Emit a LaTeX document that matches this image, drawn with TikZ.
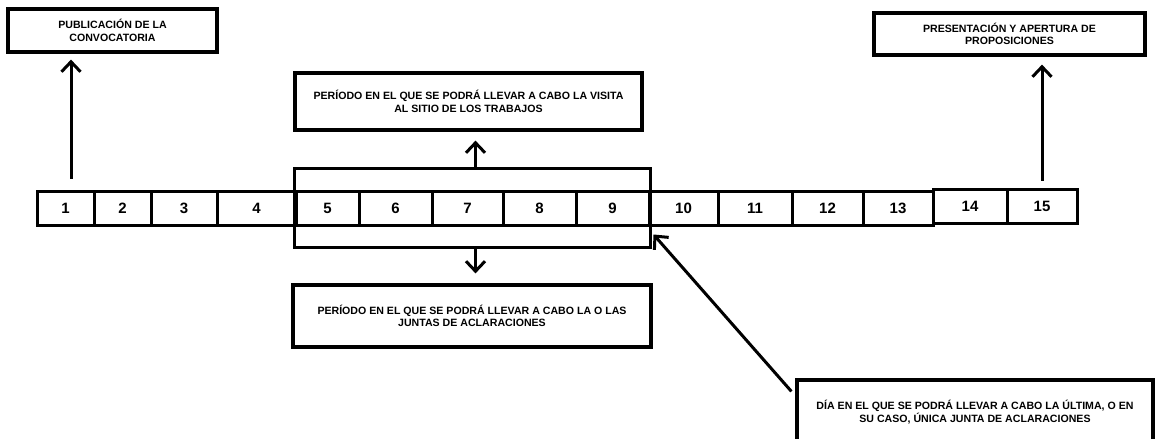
\documentclass[tikz,border=0pt]{standalone}
\usepackage{fontspec}
\setmainfont{Liberation Sans}
\usetikzlibrary{arrows.meta,fit}

\begin{document}
\begin{tikzpicture}[x=1pt,y=-1pt,
	celda/.style={draw, line width=3pt, minimum height=34, inner sep=0pt, font=\fontsize{15}{15}\selectfont\bfseries},
	caja/.style={draw, line width=3.2pt, inner sep=0pt, align=center, font=\fontsize{10.6}{12.5}\selectfont\bfseries},
	flecha/.style={line width=3pt, -{Straight Barb[length=10pt,width=19pt]}}]
			\useasboundingbox (0,0) rectangle (1160,439);
			\clip (0,0) rectangle (1160,439);
			% dias
			\node	(c1) at (65.5,208) [celda, minimum width=57] {1};
			\node	(c2) at (122.5,208) [celda, minimum width=57] {2};
			\node	(c3) at (184,208) [celda, minimum width=66] {3};
			\node	(c4) at (256.5,208) [celda, minimum width=79] {4};
			\node	(c5) at (327.5,208) [celda, minimum width=63] {5};
			\node	(c6) at (395.5,208) [celda, minimum width=73] {6};
			\node	(c7) at (467.5,208) [celda, minimum width=71] {7};
			\node	(c8) at (539.5,208) [celda, minimum width=73] {8};
			\node	(c9) at (612.5,208) [celda, minimum width=73] {9};
			\node	(c10) at (683.5,208) [celda, minimum width=69] {10};
			\node	(c11) at (755,208) [celda, minimum width=74] {11};
			\node	(c12) at (827.5,208) [celda, minimum width=71] {12};
			\node	(c13) at (898,208) [celda, minimum width=70] {13};
			\node	(c14) at (970,206) [celda, minimum width=74] {14};
			\node	(c15) at (1042,206) [celda, minimum width=70] {15};
			\node	(tramo) [draw, line width=3pt, fit=(c5)(c9), inner xsep=0pt, inner ysep=21pt] {};
			% cajas
			\node	(pub) at (112.5,30.5) [caja, minimum width=209, minimum height=43] {PUBLICACIÓN DE LA\\CONVOCATORIA};
			\node	(visita) at (468.5,101.5) [caja, minimum width=347, minimum height=57] {PERÍODO EN EL QUE SE PODRÁ LLEVAR A CABO LA VISITA\\AL SITIO DE LOS TRABAJOS};
			\node	(juntas) at (472,316) [caja, minimum width=358, minimum height=62] {PERÍODO EN EL QUE SE PODRÁ LLEVAR A CABO LA O LAS\\JUNTAS DE ACLARACIONES};
			\node	(pres) at (1009.5,34) [caja, minimum width=271, minimum height=42] {PRESENTACIÓN Y APERTURA DE\\PROPOSICIONES};
			\node	(dia) at (975,412) [caja, minimum width=356, minimum height=64] {DÍA EN EL QUE SE PODRÁ LLEVAR A CABO LA ÚLTIMA, O EN\\SU CASO, ÚNICA JUNTA DE ACLARACIONES};
			\draw[flecha, shorten <=11pt, shorten >=6pt] ([xshift=5.5pt]c1.north) -- ([xshift=5.5pt]c1.north |- pub.south);
			\draw[flecha, shorten >=9pt] ([xshift=3pt]tramo.north) -- ([xshift=3pt]tramo.north |- visita.south);
			\draw[flecha, shorten >=10pt] ([xshift=3pt]tramo.south) -- ([xshift=3pt]tramo.south |- juntas.north);
			\draw[flecha, shorten <=7pt, shorten >=8pt] (c15.north) -- (c15.north |- pres.south);
			\draw[flecha] ([xshift=-4pt,yshift=-13pt]dia.north west) -- ([xshift=6pt,yshift=-8pt]c10.south west);
		\end{tikzpicture}
\end{document}
